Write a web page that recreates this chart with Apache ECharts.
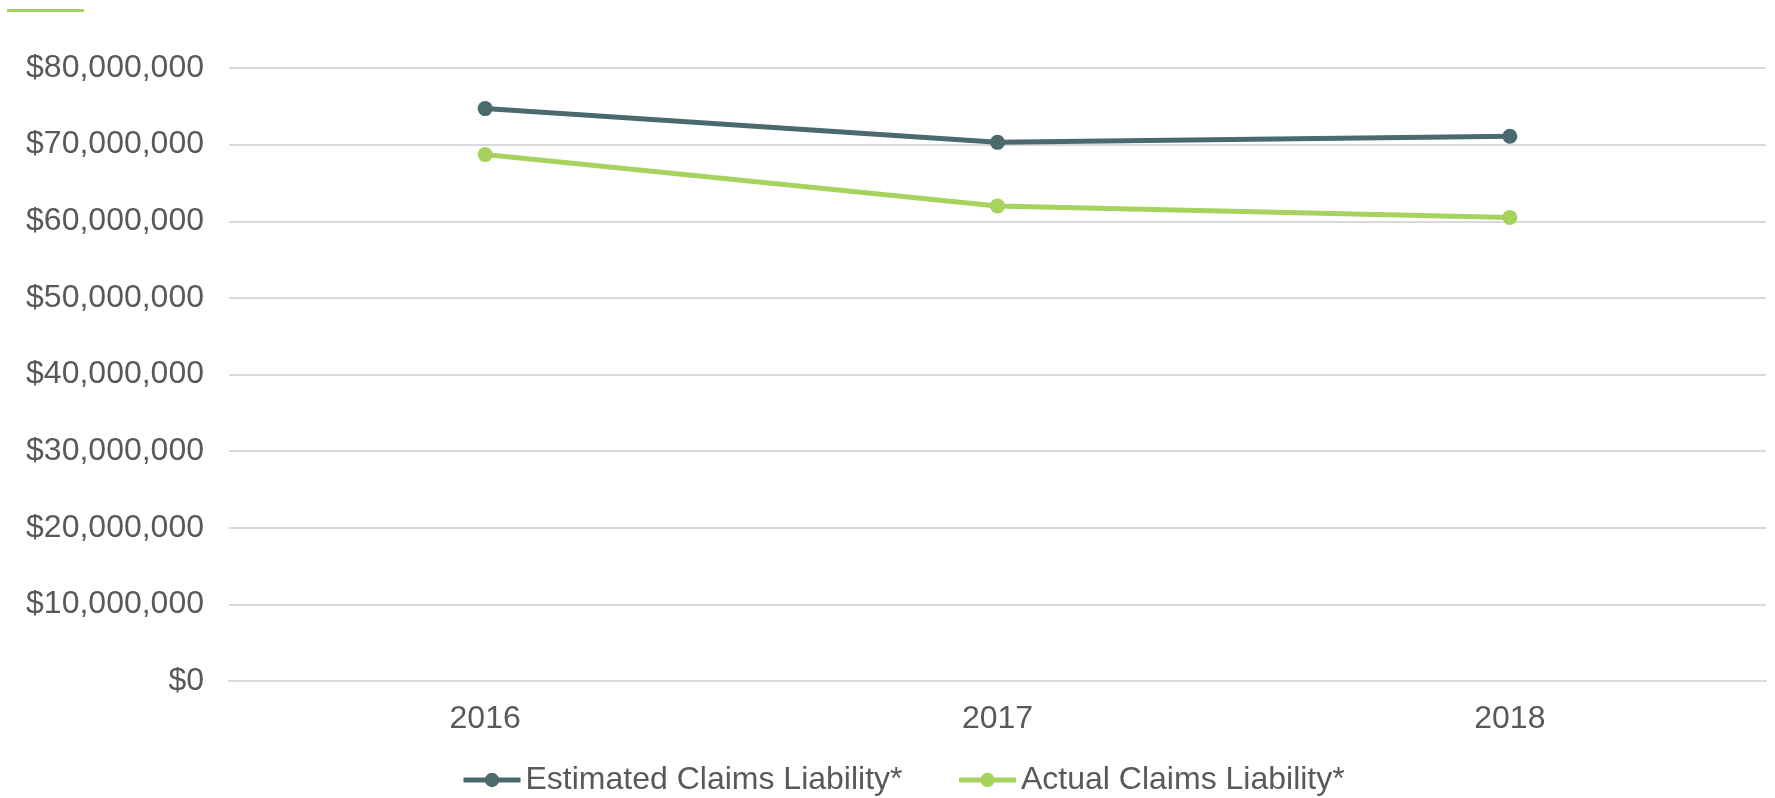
<!DOCTYPE html>
<html>
<head>
<meta charset="utf-8">
<title>Claims Liability</title>
<script src="https://cdn.jsdelivr.net/npm/echarts@6/dist/echarts.min.js"></script>
<style>
  html, body { margin: 0; padding: 0; background: #ffffff; }
  #chart { width: 1775px; height: 798px; }
</style>
</head>
<body>
<div id="chart"></div>
<script>
// Fiscal years shown on the category axis
const years = ['2016', '2017', '2018'];

// Claims liability in dollars
const estimatedClaims = [74700000, 70300000, 71100000];
const actualClaims = [68700000, 62000000, 60500000];

const seriesNames = ['Estimated Claims Liability*', 'Actual Claims Liability*'];

const DARK = '#4a6a6d';
const GREEN = '#a6d25e';
const TEXT = '#595959';
const FONT = '"Liberation Sans", Arial, sans-serif';

function dollars(v) {
  return '$' + Math.round(v).toString().replace(/\B(?=(\d{3})+(?!\d))/g, ',');
}

const chart = echarts.init(document.getElementById('chart'), null, { renderer: 'canvas' });

chart.setOption({
  backgroundColor: '#ffffff',
  animation: false,
  textStyle: { fontFamily: FONT },
  graphic: [{
    type: 'rect',
    left: 7,
    top: 9,
    shape: { width: 77, height: 3 },
    style: { fill: GREEN }
  }],
  grid: { left: 229, right: 9, top: 68, bottom: 117, containLabel: false },
  legend: {
    left: 456,
    bottom: -3,
    itemWidth: 57,
    itemHeight: 18,
    itemGap: 54,
    lineStyle: { width: 5 },
    textStyle: { color: TEXT, fontSize: 32, fontFamily: FONT },
    data: seriesNames
  },
  xAxis: {
    type: 'category',
    data: years,
    boundaryGap: true,
    axisLine: { show: true, lineStyle: { color: '#d9d9d9', width: 2 } },
    axisTick: { show: false },
    axisLabel: { color: TEXT, fontSize: 32, fontFamily: FONT, margin: 22 }
  },
  yAxis: {
    type: 'value',
    min: 0,
    max: 80000000,
    interval: 10000000,
    axisLine: { show: false },
    axisTick: { show: false },
    splitLine: { lineStyle: { color: '#d9d9d9', width: 2 } },
    axisLabel: {
      color: TEXT,
      fontSize: 32,
      fontFamily: FONT,
      margin: 25,
      formatter: dollars
    }
  },
  series: [
    {
      name: seriesNames[0],
      type: 'line',
      data: estimatedClaims,
      color: DARK,
      symbol: 'circle',
      symbolSize: 15,
      lineStyle: { width: 5, color: DARK },
      itemStyle: { color: DARK }
    },
    {
      name: seriesNames[1],
      type: 'line',
      data: actualClaims,
      color: GREEN,
      symbol: 'circle',
      symbolSize: 15,
      lineStyle: { width: 5, color: GREEN },
      itemStyle: { color: GREEN }
    }
  ]
});
</script>
</body>
</html>
